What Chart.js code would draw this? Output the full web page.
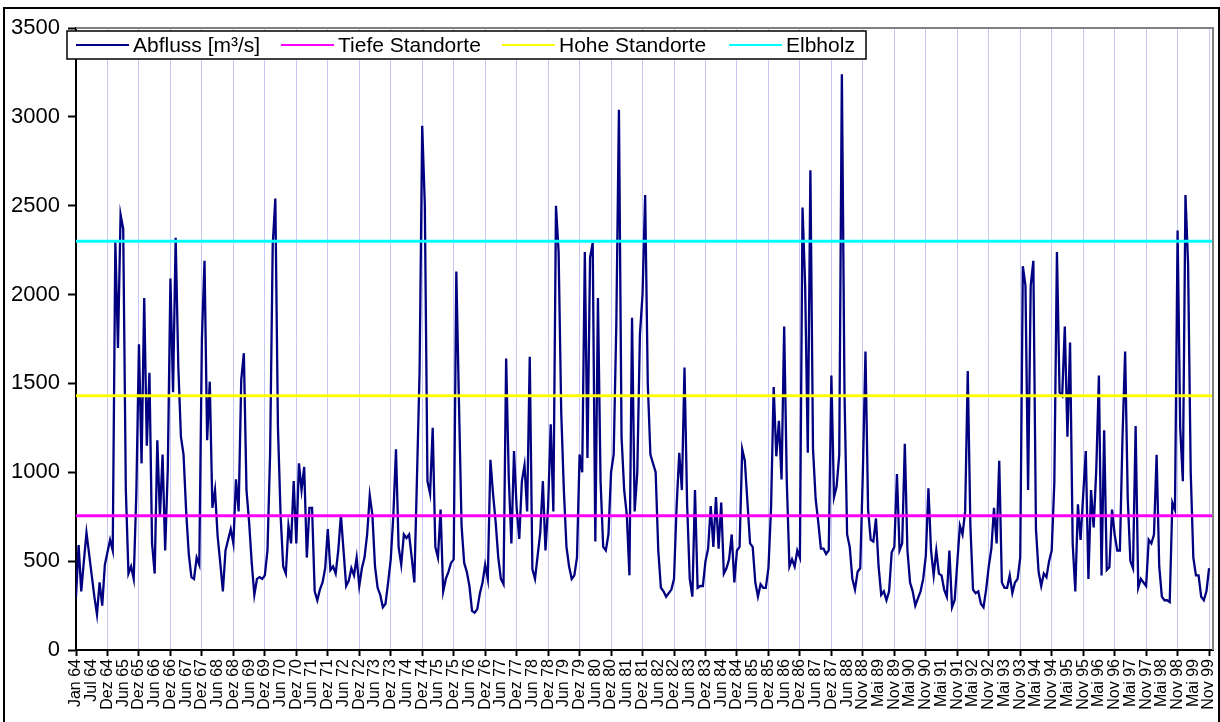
<!DOCTYPE html>
<html>
<head>
<meta charset="utf-8">
<script src="https://cdn.jsdelivr.net/npm/chart.js@4.4.1/dist/chart.umd.min.js"></script>
<style>
  html, body { margin: 0; padding: 0; background: #fff; }
  canvas { display: block; }
</style>
</head>
<body>
<canvas id="graficoAbfluss" width="1220" height="722"></canvas>
<script>
// Beschriftung der Zeitachse (ein Label je Halbjahr)
const tickLabels = ['Jan 64','Jul 64','Dez 64','Jun 65','Dez 65','Jun 66','Dez 66','Jun 67','Dez 67','Jun 68','Dez 68','Jun 69','Dez 69','Jun 70','Dez 70','Jun 71','Dez 71','Jun 72','Dez 72','Jun 73','Dez 73','Jun 74','Dez 74','Jun 75','Dez 75','Jun 76','Dez 76','Jun 77','Dez 77','Jun 78','Dez 78','Jun 79','Dez 79','Jun 80','Dez 80','Jun 81','Dez 81','Jun 82','Dez 82','Jun 83','Dez 83','Jun 84','Dez 84','Jun 85','Dez 85','Jun 86','Dez 86','Jun 87','Dez 87','Jun 88','Nov 88','Mai 89','Nov 89','Mai 90','Nov 90','Mai 91','Nov 91','Mai 92','Nov 92','Mai 93','Nov 93','Mai 94','Nov 94','Mai 95','Nov 95','Mai 96','Nov 96','Mai 97','Nov 97','Mai 98','Nov 98','Mai 99','Nov 99'];

// Abfluss [m³/s], 6 Werte je Label-Intervall
const abfluss64bis69 = [
  300, 590, 330, 500, 660, 540,   420, 300, 200, 380, 250, 480,
  550, 620, 560, 2300, 1700, 2450, 2370, 900, 430, 470, 400, 880,
  1720, 1050, 1980, 1150, 1560, 600, 430, 1180, 750, 1100, 560, 1020,
  2090, 1450, 2320, 1600, 1200, 1100, 780, 540, 410, 400, 520, 480,
  1750, 2190, 1180, 1510, 800, 900, 640, 490, 330, 560, 620, 680,
  600, 960, 780, 1520, 1670, 900,  720, 490, 310, 400, 410, 400
];
const abfluss70bis75 = [
  420, 560, 1100, 2280, 2540, 1250, 760, 470, 430, 700, 600, 950,
  600, 1050, 900, 1030, 520, 800,  800, 330, 280, 340, 380, 460,
  680, 450, 470, 430, 560, 760,    560, 360, 390, 460, 420, 520,
  360, 460, 520, 650, 870, 760,    470, 350, 310, 240, 260, 380,
  510, 760, 1130, 580, 480, 650,   630, 650, 520, 380, 970, 1570,
  2950, 2500, 950, 880, 1250, 580, 520, 790, 330, 400, 440, 490
];
const abfluss76bis81 = [
  510, 2130, 1400, 700, 490, 440,  360, 220, 210, 230, 320, 380,
  480, 400, 1070, 880, 720, 520,   400, 370, 1640, 970, 600, 1120,
  800, 625, 950, 1040, 780, 1650,  455, 400, 530, 660, 950, 560,
  810, 1270, 780, 2500, 2240, 1340, 900, 580, 470, 400, 420, 520,
  1100, 1000, 2240, 1080, 2210, 2290, 610, 1980, 950, 580, 560, 650,
  1000, 1100, 1830, 3040, 1200, 900, 760, 420, 1870, 780, 1000, 1775
];
const abfluss82bis87 = [
  2000, 2560, 1500, 1100, 1050, 1000, 560, 350, 330, 300, 320, 340,
  400, 810, 1110, 900, 1590, 820,  400, 300, 900, 350, 360, 360,
  500, 570, 810, 580, 860, 570,    830, 430, 460, 510, 650, 380,
  560, 580, 1130, 1065, 830, 600,  580, 380, 300, 370, 350, 350,
  460, 800, 1480, 1090, 1290, 960, 1820, 950, 470, 510, 470, 560,
  520, 2490, 2050, 1110, 2700, 1130, 850, 720, 570, 570, 540, 560
];
const abfluss88bis93 = [
  1545, 860, 920, 1100, 3240, 1450, 650, 580, 400, 340, 440, 460,
  1000, 1680, 790, 620, 610, 740,  470, 310, 330, 280, 330, 550,
  580, 990, 560, 600, 1160, 560,   380, 330, 250, 290, 330, 400,
  530, 910, 560, 420, 560, 430,    420, 340, 300, 560, 240, 280,
  490, 700, 650, 780, 1570, 700,   340, 320, 330, 260, 240, 340,
  470, 570, 800, 600, 1065, 380,   350, 350, 420, 320, 380, 400
];
const abfluss94bis99 = [
  520, 2160, 2050, 900, 2050, 2190, 680, 440, 360, 430, 410, 500,
  560, 940, 2240, 1450, 1430, 1820, 1200, 1730, 600, 330, 820, 620,
  870, 1120, 400, 900, 690, 1018,  1545, 420, 1237, 450, 465, 790,
  650, 560, 560, 1200, 1680, 850,  500, 460, 1260, 350, 400, 380,
  360, 620, 600, 650, 1098, 470,   300, 280, 280, 270, 830, 790,
  2360, 1250, 950, 2560, 2170, 1000, 520, 420, 420, 300, 280, 330,
  460
];

// Grenzwerte der Standorte [m³/s]
const tiefeStandorte = 755;
const hoheStandorte  = 1430;
const elbholz        = 2300;

const PUNKTE_PRO_LABEL = 6;
const X_MAX = tickLabels.length - 1 + 0.25;

const abfluss = [].concat(abfluss64bis69, abfluss70bis75, abfluss76bis81,
                          abfluss82bis87, abfluss88bis93, abfluss94bis99);
const abflussPunkte = abfluss.map((v, i) => ({ x: i / PUNKTE_PRO_LABEL, y: v }));
const linie = v => [{ x: 0, y: v }, { x: X_MAX, y: v }];

const SCHRIFT = '"Liberation Sans", Arial, sans-serif';

// weisser Hintergrund, Rahmen, graue Plotkante
const rahmenPlugin = {
  id: 'rahmen',
  beforeDraw(chart) {
    const c = chart.ctx;
    c.save();
    c.fillStyle = '#fff';
    c.fillRect(0, 0, chart.width, chart.height);
    c.restore();
  },
  afterDraw(chart) {
    const c = chart.ctx;
    const a = chart.chartArea;
    c.save();
    c.strokeStyle = '#808080';
    c.lineWidth = 2;
    c.beginPath();
    c.moveTo(a.left, a.top);
    c.lineTo(a.right, a.top);
    c.lineTo(a.right, a.bottom);
    c.stroke();
    c.strokeStyle = '#000';
    c.lineWidth = 2;
    c.strokeRect(4, 8, chart.width - 5, chart.height - 6);
    c.restore();
  }
};

// Legende mit Kasten oben links im Plot
const legendePlugin = {
  id: 'legende',
  afterDraw(chart) {
    const c = chart.ctx;
    const x0 = 67, y0 = 31, breite = 799, hoehe = 28;
    const starts = [76, 281, 502, 729];
    c.save();
    c.fillStyle = '#fff';
    c.fillRect(x0, y0, breite, hoehe);
    c.strokeStyle = '#000';
    c.lineWidth = 1.5;
    c.strokeRect(x0, y0, breite, hoehe);
    c.font = '21px ' + SCHRIFT;
    c.textBaseline = 'middle';
    chart.data.datasets.forEach((ds, i) => {
      const yMitte = y0 + hoehe / 2;
      c.strokeStyle = ds.borderColor;
      c.lineWidth = 2;
      c.beginPath();
      c.moveTo(starts[i], yMitte);
      c.lineTo(starts[i] + 53, yMitte);
      c.stroke();
      c.fillStyle = '#000';
      c.fillText(ds.label, starts[i] + 57, yMitte + 1);
    });
    c.restore();
  }
};

new Chart(document.getElementById('graficoAbfluss').getContext('2d'), {
  type: 'line',
  data: {
    datasets: [
      { label: 'Abfluss [m³/s]', data: abflussPunkte, borderColor: '#000080', borderWidth: 2.3, order: 2 },
      { label: 'Tiefe Standorte', data: linie(tiefeStandorte), borderColor: '#ff00ff', borderWidth: 3, order: 1 },
      { label: 'Hohe Standorte', data: linie(hoheStandorte), borderColor: '#ffff00', borderWidth: 3, order: 1 },
      { label: 'Elbholz', data: linie(elbholz), borderColor: '#00ffff', borderWidth: 3, order: 1 }
    ]
  },
  options: {
    responsive: false,
    animation: false,
    devicePixelRatio: 1,
    layout: { padding: { left: 0, top: 28, right: 7, bottom: 0 } },
    elements: { point: { radius: 0 }, line: { tension: 0 } },
    plugins: { legend: { display: false }, tooltip: { enabled: false } },
    scales: {
      x: {
        type: 'linear',
        min: 0,
        max: X_MAX,
        afterBuildTicks: s => { s.ticks = tickLabels.map((_, i) => ({ value: i })); },
        afterFit: s => { s.height = 72; s.paddingLeft = 0; s.paddingRight = 0; },
        ticks: {
          autoSkip: false,
          maxRotation: 90,
          minRotation: 90,
          padding: 3,
          color: '#000',
          font: { family: SCHRIFT, size: 16 },
          callback: (v, i) => tickLabels[i]
        },
        grid: {
          color: ctx => (ctx.index % 2 === 0 ? '#c8c8f4' : 'rgba(0,0,0,0)'),
          tickColor: ctx => (ctx.index % 2 === 0 ? '#000' : 'rgba(0,0,0,0)'),
          lineWidth: 1,
          tickWidth: 2,
          tickLength: 6
        },
        border: { color: '#000', width: 2 }
      },
      y: {
        min: 0,
        max: 3500,
        afterFit: s => { s.width = 76; },
        ticks: {
          stepSize: 500,
          padding: 8,
          color: '#000',
          font: { family: SCHRIFT, size: 22 },
          callback: v => String(v)
        },
        grid: { drawOnChartArea: false, tickColor: '#000', tickWidth: 2, tickLength: 8 },
        border: { color: '#000', width: 2 }
      }
    }
  },
  plugins: [rahmenPlugin, legendePlugin]
});
</script>
</body>
</html>
